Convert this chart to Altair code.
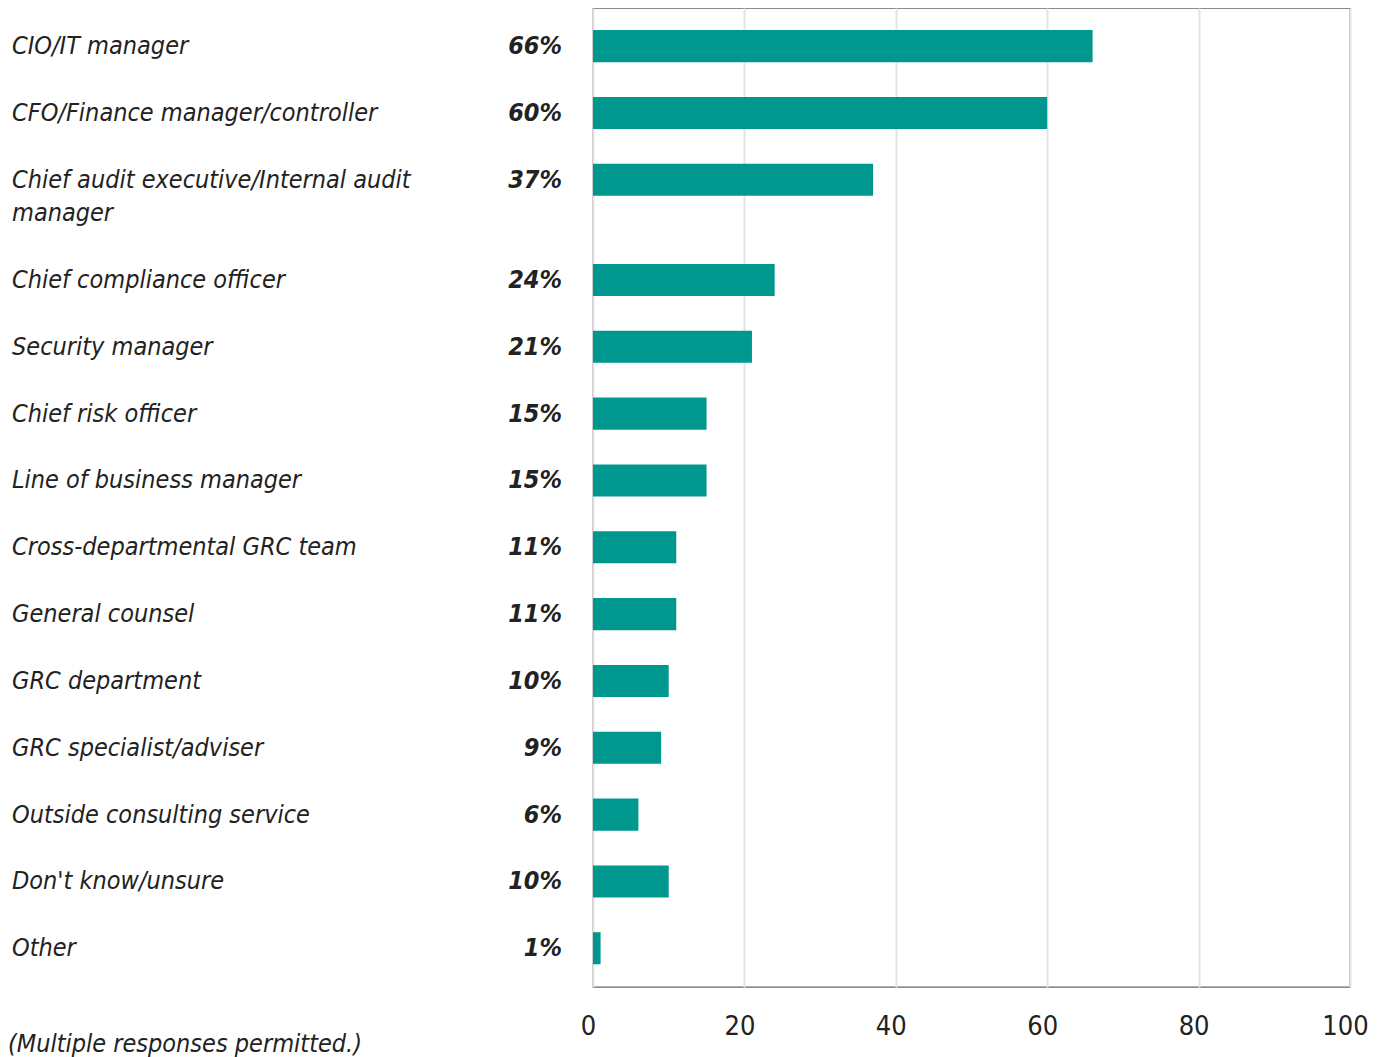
import altair as alt
import pandas as pd

categories = [
    "CIO/IT manager",
    "CFO/Finance manager/controller",
    "Chief audit executive/Internal audit\nmanager",
    "Chief compliance officer",
    "Security manager",
    "Chief risk officer",
    "Line of business manager",
    "Cross-departmental GRC team",
    "General counsel",
    "GRC department",
    "GRC specialist/adviser",
    "Outside consulting service",
    "Don't know/unsure",
    "Other",
]
values = [66, 60, 37, 24, 21, 15, 15, 11, 11, 10, 9, 6, 10, 1]
x_ticks = [0, 20, 40, 60, 80, 100]
footnote = "(Multiple responses permitted.)"

# row position: a wrapped (two-line) label takes an extra half row
positions = []
p = 0.0
for c in categories:
    positions.append(p)
    p += 1 + 0.5 * c.count("\n")

df = pd.DataFrame({"label": categories, "value": values, "pos": positions})

FONT = "DejaVu Sans Condensed"
TEAL = "#00978F"
TXT = "#222222"
FS = 25

yscale = alt.Scale(domain=[-0.57, 14.08], reverse=True, nice=False, zero=False)
xscale = alt.Scale(domain=[0, 100], nice=False)

base = alt.Chart(df).transform_calculate(
    zero="0",
    y0="datum.pos - 0.24",
    y1="datum.pos + 0.24",
    pct="datum.value + '%'",
)

bars = base.mark_rect(color=TEAL).encode(
    x=alt.X("value:Q", scale=xscale,
            axis=alt.Axis(values=x_ticks, title=None, grid=True, gridColor="#e4e4e4",
                          gridWidth=2, ticks=False, domain=False, labelFont=FONT,
                          labelFontSize=27, labelColor=TXT, labelPadding=26,
                          labelFlush=False, labelOffset=-5)),
    x2="zero:Q",
    y=alt.Y("y0:Q", scale=yscale, axis=None),
    y2="y1:Q",
)

labels = base.mark_text(
    align="left", baseline="top", dy=-12, font=FONT, fontSize=FS,
    fontStyle="italic", color=TXT, lineBreak="\n", lineHeight=33,
).encode(
    x=alt.value(-581),
    y=alt.Y("pos:Q", scale=yscale),
    text="label:N",
)

pcts = base.mark_text(
    align="right", baseline="middle", font=FONT, fontSize=FS,
    fontStyle="italic", fontWeight="bold", color=TXT,
).encode(
    x=alt.value(-31),
    y=alt.Y("pos:Q", scale=yscale),
    text="pct:N",
)

chart = alt.layer(bars, labels, pcts).properties(
    width=757,
    height=979,
    padding={"left": 585, "top": 0, "right": 20, "bottom": 70},
    autosize=alt.AutoSizeParams(type="none"),
    title=alt.TitleParams(
        text=footnote, orient="bottom", anchor="start", frame="group",
        dx=-585, dy=-11, font=FONT, fontSize=FS, fontStyle="italic",
        fontWeight="normal", color=TXT,
    ),
).configure_view(stroke="#666", strokeWidth=1.3)

chart.save("out.html", embed_options={"renderer": "svg", "actions": False})
